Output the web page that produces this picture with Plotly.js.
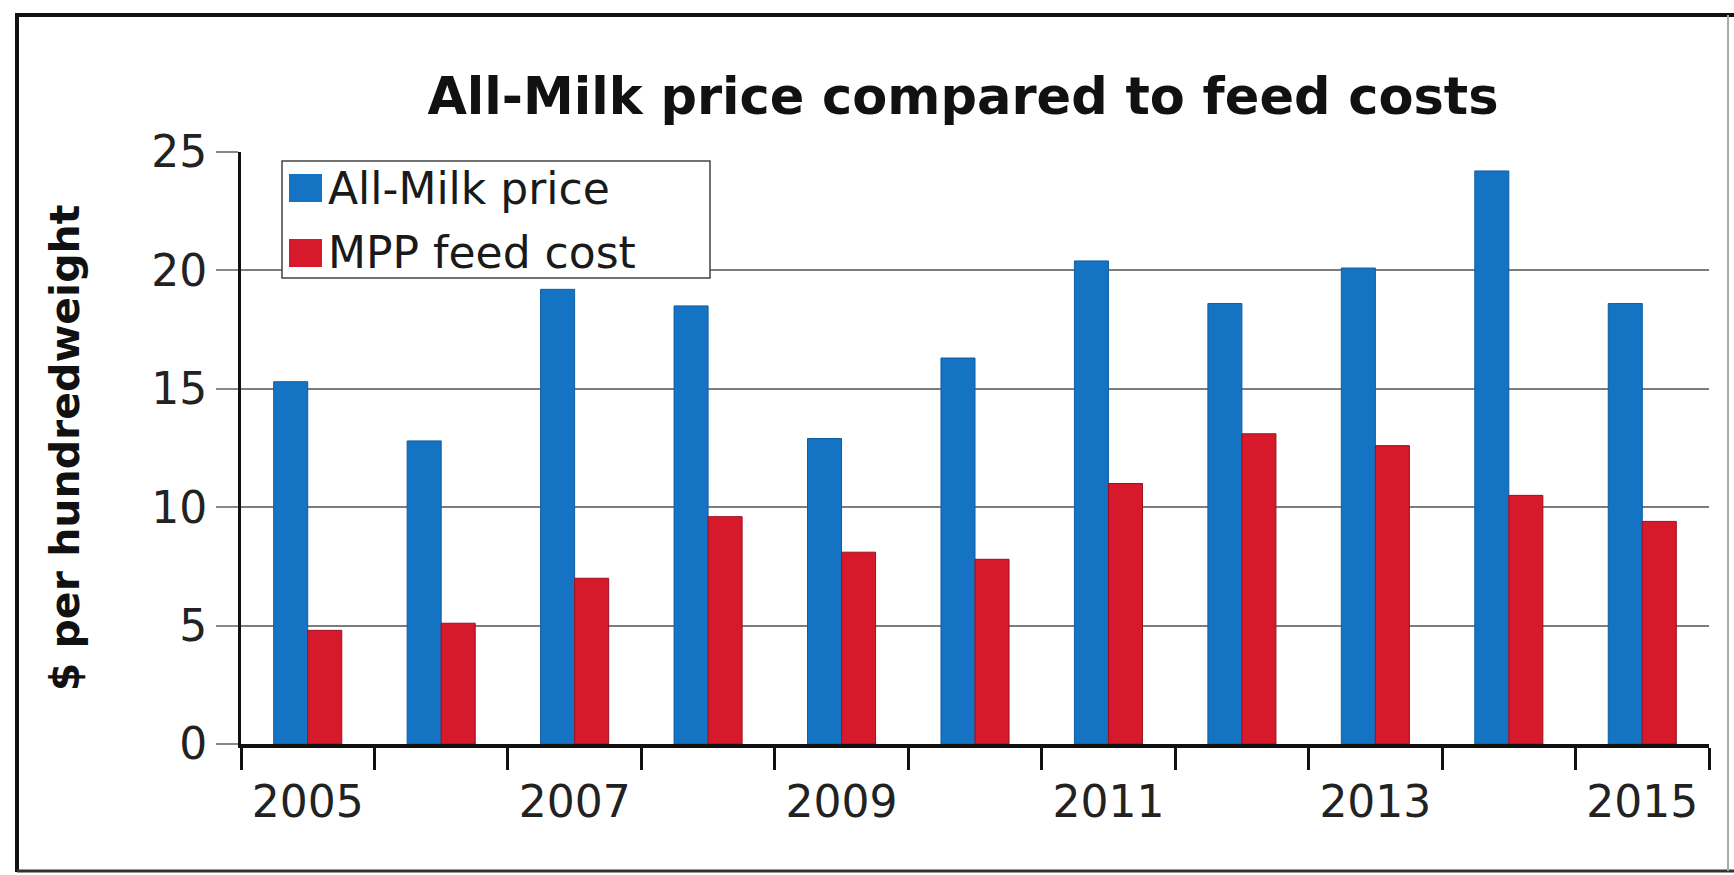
<!DOCTYPE html>
<html>
<head>
<meta charset="utf-8">
<script src="https://cdn.plot.ly/plotly-3.0.1.min.js"></script>
<style>
  html, body { margin: 0; padding: 0; background: #ffffff; }
  #chart { width: 1734px; height: 875px; }
</style>
</head>
<body>
<div id="chart"></div>
<script>
// ---- data ----
const years = [2005, 2006, 2007, 2008, 2009, 2010, 2011, 2012, 2013, 2014, 2015];
const allMilkPrice = [15.3, 12.8, 19.2, 18.5, 12.9, 16.3, 20.4, 18.6, 20.1, 24.2, 18.6];
const mppFeedCost = [4.8, 5.1, 7.0, 9.6, 8.1, 7.8, 11.0, 13.1, 12.6, 10.5, 9.4];
const seriesNames = ['All-Milk price', 'MPP feed cost'];
const xTickLabels = ['2005', '2007', '2009', '2011', '2013', '2015'];
const yTickValues = [0, 5, 10, 15, 20, 25];
const chartTitle = 'All-Milk price compared to feed costs';
const yAxisTitle = '$ per hundredweight';

// ---- styling ----
const W = 1734, H = 875;
const M = {l: 241, r: 25, t: 152, b: 131};
const PW = W - M.l - M.r, PH = H - M.t - M.b;
const px = x => (x - M.l) / PW;          // pixel -> paper x
const py = y => (H - M.b - y) / PH;      // pixel -> paper y
const colors = ['#1573c3', '#d6192b'];
const edge = ['#0f5d9f', '#9c1020'];
const FONT = 'DejaVu Sans, Arial, sans-serif';

const traces = [allMilkPrice, mppFeedCost].map((vals, i) => ({
  type: 'bar',
  x: years,
  y: vals,
  name: seriesNames[i],
  marker: {color: colors[i], line: {color: edge[i], width: 1}},
  showlegend: false,
  hoverinfo: 'x+y+name'
}));

// hand-drawn legend (box, swatches, labels)
const shapes = [
  {type: 'rect', xref: 'paper', yref: 'paper', x0: px(282), x1: px(710), y0: py(278), y1: py(161),
   line: {color: '#444', width: 1.5}, fillcolor: '#ffffff', layer: 'above'},
  {type: 'rect', xref: 'paper', yref: 'paper', x0: px(289), x1: px(322), y0: py(202), y1: py(174),
   line: {width: 0}, fillcolor: colors[0], layer: 'above'},
  {type: 'rect', xref: 'paper', yref: 'paper', x0: px(289), x1: px(322), y0: py(267), y1: py(239),
   line: {width: 0}, fillcolor: colors[1], layer: 'above'},
  // frame
  {type: 'path', xref: 'paper', yref: 'paper',
   path: `M ${px(17)},${py(872)} L ${px(17)},${py(15)} L ${px(1736)},${py(15)}`,
   line: {color: '#111', width: 4}, layer: 'above'},
  {type: 'line', xref: 'paper', yref: 'paper', x0: px(17), x1: px(1736), y0: py(871), y1: py(871),
   line: {color: '#333', width: 3}, layer: 'above'},
  {type: 'line', xref: 'paper', yref: 'paper', x0: px(1728), x1: px(1728), y0: py(15), y1: py(871),
   line: {color: '#aaa', width: 2}, layer: 'above'}
];

const annotations = seriesNames.map((name, i) => ({
  xref: 'paper', yref: 'paper',
  x: px(326), y: py(i === 0 ? 188 : 252),
  xanchor: 'left', yanchor: 'middle',
  text: name, showarrow: false,
  font: {family: FONT, size: 44, color: '#1a1a1a'}
}));

const layout = {
  width: W, height: H,
  margin: M,
  paper_bgcolor: '#ffffff',
  plot_bgcolor: '#ffffff',
  showlegend: false,
  barmode: 'group',
  bargap: 0.49,
  bargroupgap: 0,
  title: {
    text: '<b>' + chartTitle + '</b>',
    font: {family: FONT, size: 51, color: '#111'},
    xref: 'container', yref: 'container',
    x: 963 / W, y: 1 - 96 / H, xanchor: 'center', yanchor: 'middle'
  },
  xaxis: {
    type: 'linear',
    range: [years[0] - 0.5, years[years.length - 1] + 0.5],
    tickmode: 'array',
    tickvals: xTickLabels.map(Number),
    ticktext: xTickLabels,
    ticks: 'outside', ticklen: 16, tickcolor: 'rgba(0,0,0,0)',
    minor: {tick0: years[0] - 0.5, dtick: 1, ticks: 'outside', ticklen: 22, tickwidth: 2.5, tickcolor: '#111', showgrid: false},
    showgrid: false, zeroline: false,
    showline: true, linecolor: '#111', linewidth: 4,
    tickfont: {family: FONT, size: 44, color: '#222'},
    fixedrange: true
  },
  yaxis: {
    range: [0, 25],
    tickmode: 'array',
    tickvals: yTickValues,
    ticks: 'outside', ticklen: 22, tickwidth: 2, tickcolor: '#888',
    showgrid: true, gridcolor: '#7d7d7d', gridwidth: 2,
    zeroline: false,
    showline: true, linecolor: '#111', linewidth: 3,
    tickfont: {family: FONT, size: 44, color: '#222'},
    title: {text: '<b>' + yAxisTitle + '</b>', font: {family: FONT, size: 41, color: '#111'}, standoff: 59},
    fixedrange: true
  },
  shapes: shapes,
  annotations: annotations
};

Plotly.newPlot('chart', traces, layout, {displayModeBar: false, responsive: false});
</script>
</body>
</html>
